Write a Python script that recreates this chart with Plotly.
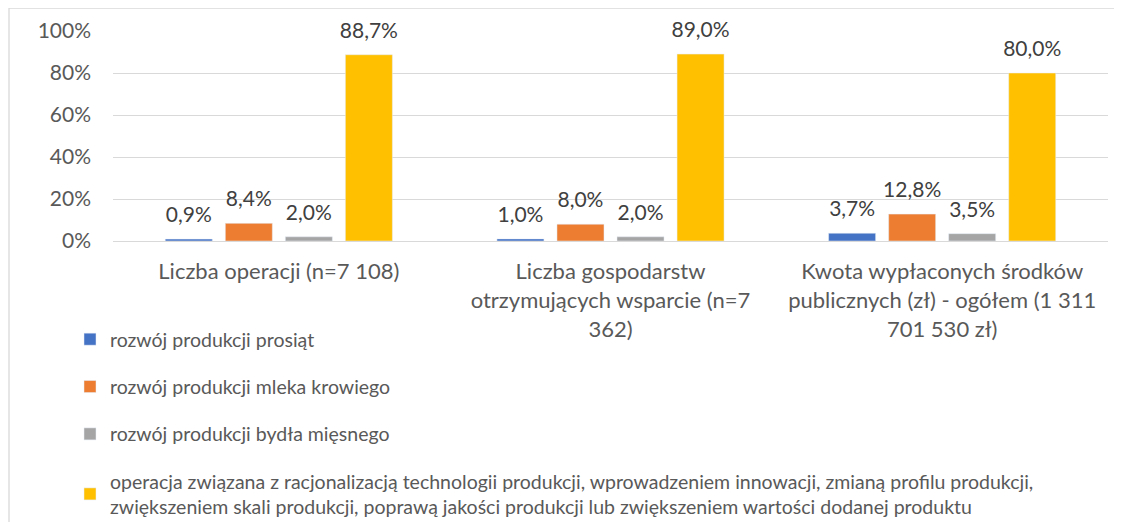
import plotly.graph_objects as go

categories = [
    "Liczba operacji (n=7 108)",
    "Liczba gospodarstw<br>otrzymujących wsparcie (n=7<br>362)",
    "Kwota wypłaconych środków<br>publicznych (zł) - ogółem (1 311<br>701 530 zł)",
]
series_names = [
    "rozwój produkcji prosiąt",
    "rozwój produkcji mleka krowiego",
    "rozwój produkcji bydła mięsnego",
    "operacja związana z racjonalizacją technologii produkcji, wprowadzeniem innowacji, zmianą profilu produkcji,<br>zwiększeniem skali produkcji, poprawą jakości produkcji lub zwiększeniem wartości dodanej produktu",
]
prosiat = [0.009, 0.010, 0.037]
mleko = [0.084, 0.080, 0.128]
bydlo = [0.020, 0.020, 0.035]
operacja = [0.887, 0.890, 0.800]
series_values = [prosiat, mleko, bydlo, operacja]
colors = ["#4472C4", "#ED7D31", "#A5A5A5", "#FFC000"]

FONT = "Lato"
OX, OY = 8, 8          # page body offset of the figure
W, H = 1114, 514
# plot area in screen pixels
SX0, SX1, SY0, SY1 = 113, 1108, 31, 241
L = SX0 - OX
R = W - (SX1 - OX)
T = SY0 - OY
B = H - (SY1 - OY)
pw = W - L - R
ph = H - T - B

def px_x(x):
    return (x - SX0) / pw

def px_y(y):
    return (SY1 - y) / ph

BARGAP = 0.276

fig = go.Figure()
for i, (name, vals, col) in enumerate(zip(series_names, series_values, colors)):
    fig.add_trace(go.Bar(
        x=categories, y=vals, name=name, marker_color=col,
        legendgroup=f"g{i}", offsetgroup=f"o{i}",
        hoverinfo="y",
    ))
for i, vals in enumerate(series_values):
    fig.add_trace(go.Scatter(
        x=categories, y=vals, mode="markers+text",
        texttemplate="%{y:.1%}",
        textposition="top center",
        textfont=dict(family=FONT, size=21, color="#404040"),
        marker=dict(size=17, color="rgba(0,0,0,0)"),
        offsetgroup=f"o{i}", showlegend=False, cliponaxis=False,
        hoverinfo="skip",
    ))

fig.update_layout(
    width=W, height=H,
    margin=dict(l=L, r=R, t=T, b=B, autoexpand=False),
    paper_bgcolor="white", plot_bgcolor="white",
    separators=", ",
    barmode="group", bargap=BARGAP, bargroupgap=0.217,
    scattermode="group", scattergap=BARGAP,
    font=dict(family=FONT, size=21, color="#595959"),
    showlegend=True,
    legend=dict(
        orientation="v", x=px_x(70), y=px_y(320), xanchor="left", yanchor="top",
        font=dict(family=FONT, size=19.5, color="#595959"),
        tracegroupgap=19, itemwidth=30, traceorder="grouped",
        bgcolor="rgba(0,0,0,0)",
    ),
)
fig.update_yaxes(
    range=[0, 1], tickformat=".0%", dtick=0.2,
    gridcolor="#D9D9D9", gridwidth=1.3,
    zeroline=True, zerolinecolor="#D9D9D9", zerolinewidth=1.3,
    tickfont=dict(family=FONT, size=21, color="#595959"),
    ticklabelstandoff=21, showline=False,
)
fig.update_xaxes(
    tickfont=dict(family=FONT, size=22, color="#595959"),
    ticks="outside", ticklen=11, tickcolor="rgba(0,0,0,0)",
    showline=False, showgrid=False,
)
fig.add_shape(
    type="rect", xref="paper", yref="paper",
    x0=px_x(OX + 1), x1=px_x(1140), y0=px_y(OY), y1=px_y(540),
    line=dict(color="#D9D9D9", width=1.3), fillcolor="rgba(0,0,0,0)", layer="below",
)

fig.write_html("out.html")
